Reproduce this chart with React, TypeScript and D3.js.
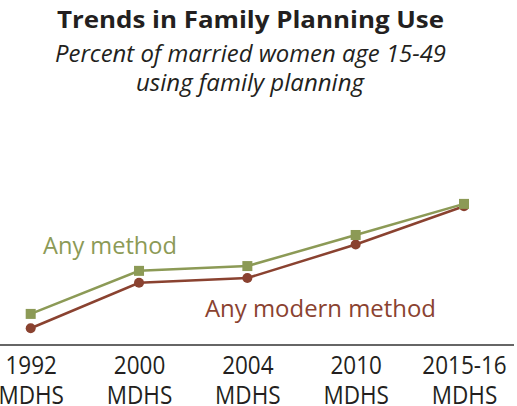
import React from "react";
import * as d3 from "d3";

const categories = ["1992", "2000", "2004", "2010", "2015-16"];
const anyMethod = [13, 31, 33, 46, 59];
const anyModern = [7, 26, 28, 42, 58];
const tickSub = "MDHS";

const W = 517;
const H = 406;
const GREEN = "#8c9a56";
const BROWN = "#8a4230";
const INK = "#231f20";
const FONT = "'Open Sans', 'Noto Sans', sans-serif";

export default function App() {
  const x = d3.scalePoint<string>().domain(categories).range([30.7, 464]);
  const y = d3.scaleLinear().domain([0, 60]).range([345, 201.5]);
  const line = d3
    .line<number>()
    .x((_, i) => x(categories[i]) as number)
    .y((d) => y(d));

  return (
    <svg
      width={W}
      height={H}
      style={{ position: "fixed", left: 0, top: 0, background: "#fff" }}
    >
      <text x={250.5} y={28} textAnchor="middle" fontFamily={FONT} fontWeight={700} fontSize={24} fill={INK} textLength={387} lengthAdjust="spacingAndGlyphs">
        Trends in Family Planning Use
      </text>
      <text x={250.5} y={62} textAnchor="middle" fontFamily={FONT} fontStyle="italic" fontSize={23.5} fill={INK} textLength={391} lengthAdjust="spacingAndGlyphs">
        Percent of married women age 15-49
      </text>
      <text x={250} y={91} textAnchor="middle" fontFamily={FONT} fontStyle="italic" fontSize={23.5} fill={INK} textLength={228} lengthAdjust="spacingAndGlyphs">
        using family planning
      </text>

      <line x1={0} x2={514} y1={y(0)} y2={y(0)} stroke="#333" strokeWidth={1.5} />

      <path d={line(anyModern) || ""} fill="none" stroke={BROWN} strokeWidth={2.5} />
      <path d={line(anyMethod) || ""} fill="none" stroke={GREEN} strokeWidth={2.5} />
      {anyModern.map((v, i) => (
        <circle key={"m" + i} cx={x(categories[i])} cy={y(v)} r={5} fill={BROWN} />
      ))}
      {anyMethod.map((v, i) => (
        <rect key={"a" + i} x={(x(categories[i]) as number) - 5} y={y(v) - 5} width={10} height={10} fill={GREEN} />
      ))}

      <text x={43} y={253.5} fontFamily={FONT} fontSize={23} fill={GREEN} textLength={134} lengthAdjust="spacingAndGlyphs">
        Any method
      </text>
      <text x={205} y={317} fontFamily={FONT} fontSize={23} fill={BROWN} textLength={231} lengthAdjust="spacingAndGlyphs">
        Any modern method
      </text>

      {categories.map((c) => (
        <g key={c} transform={`translate(${(x(c) as number) + 0.5},0) scale(0.9,1)`}>
          <text x={0} y={374} textAnchor="middle" fontFamily={FONT} fontSize={25} fill={INK}>
            {c}
          </text>
          <text x={0} y={404.5} textAnchor="middle" fontFamily={FONT} fontSize={25} fill={INK}>
            {tickSub}
          </text>
        </g>
      ))}
    </svg>
  );
}
